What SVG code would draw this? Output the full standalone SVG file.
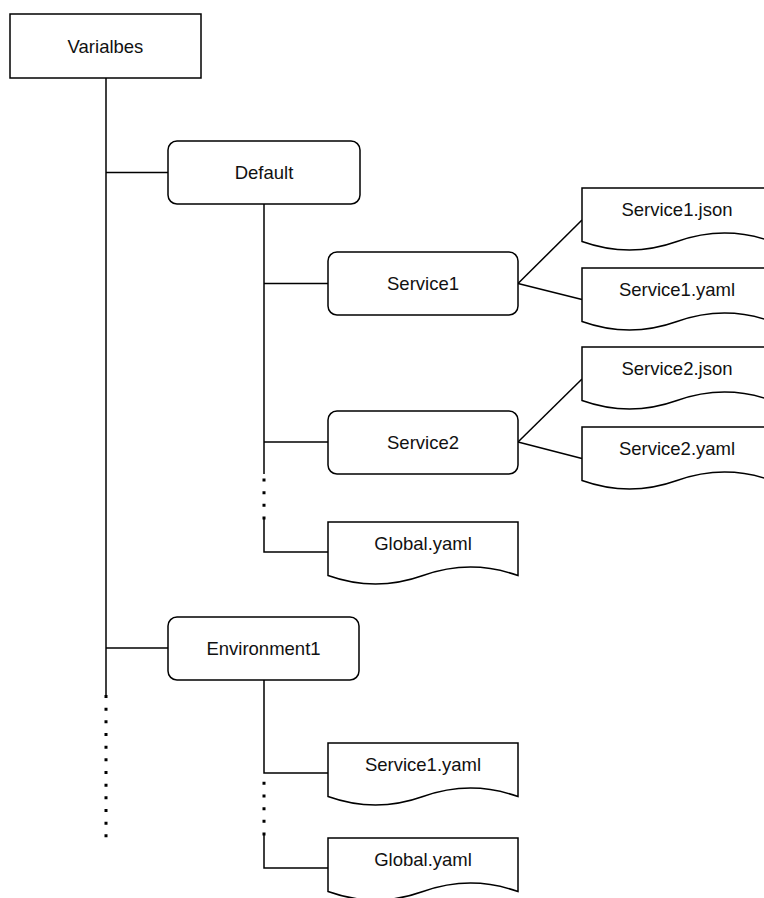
<svg xmlns="http://www.w3.org/2000/svg" width="764" height="898" viewBox="0 0 764 898">
<style>
.box{fill:#fff;stroke:#000;stroke-width:1.5}
.ln{fill:none;stroke:#000;stroke-width:1.5}
.dot{fill:none;stroke:#000;stroke-width:3;stroke-dasharray:3 9.67}
text{font-family:"Liberation Sans",Arial,Helvetica,sans-serif;font-size:18.5px;fill:#111;text-anchor:middle}
</style>
<defs>
<path id="doc" d="M0 0 H190 V53.55 Q142.5 36.54 95 53.55 Q47.5 70.56 0 53.55 Z"/>
</defs>
<g id="connectors">
<line class="ln" x1="106" y1="78" x2="106" y2="695"/>
<line class="dot" x1="106" y1="695" x2="106" y2="838"/>
<line class="ln" x1="106" y1="172.5" x2="168" y2="172.5"/>
<line class="ln" x1="106" y1="648" x2="168" y2="648"/>
<line class="ln" x1="264" y1="204" x2="264" y2="474"/>
<line class="ln" x1="264" y1="283.5" x2="328" y2="283.5"/>
<line class="ln" x1="264" y1="442" x2="328" y2="442"/>
<line class="dot" x1="264" y1="478.5" x2="264" y2="519.5"/>
<polyline class="ln" points="264,518 264,552 328,552"/>
<line class="ln" x1="518" y1="283.5" x2="582" y2="220"/>
<line class="ln" x1="518" y1="283.5" x2="582" y2="299.5"/>
<line class="ln" x1="518" y1="442" x2="582" y2="379"/>
<line class="ln" x1="518" y1="442" x2="582" y2="458.5"/>
<polyline class="ln" points="264,680 264,773 328,773"/>
<line class="dot" x1="264" y1="781.8" x2="264" y2="836"/>
<polyline class="ln" points="264,834 264,868 328,868"/>
</g>
<g id="varialbes">
<rect class="box" x="10" y="14" width="191" height="64"/>
<text x="105.5" y="52.5">Varialbes</text>
</g>
<g id="default">
<rect class="box" x="168" y="141" width="192" height="63" rx="9"/>
<text x="264" y="179">Default</text>
</g>
<g id="service1">
<rect class="box" x="328" y="252" width="190" height="63" rx="9"/>
<text x="423" y="290">Service1</text>
</g>
<g id="service1-json">
<use href="#doc" class="box" x="582" y="188"/>
<text x="677" y="216">Service1.json</text>
</g>
<g id="service1-yaml">
<use href="#doc" class="box" x="582" y="268"/>
<text x="677" y="296">Service1.yaml</text>
</g>
<g id="service2">
<rect class="box" x="328" y="411" width="190" height="63" rx="9"/>
<text x="423" y="449">Service2</text>
</g>
<g id="service2-json">
<use href="#doc" class="box" x="582" y="347"/>
<text x="677" y="375">Service2.json</text>
</g>
<g id="service2-yaml">
<use href="#doc" class="box" x="582" y="427"/>
<text x="677" y="455">Service2.yaml</text>
</g>
<g id="global-default">
<use href="#doc" class="box" x="328" y="522"/>
<text x="423" y="549.5">Global.yaml</text>
</g>
<g id="environment1">
<rect class="box" x="168" y="617" width="191" height="63" rx="9"/>
<text x="263.5" y="655">Environment1</text>
</g>
<g id="env-service1-yaml">
<use href="#doc" class="box" x="328" y="743"/>
<text x="423" y="770.5">Service1.yaml</text>
</g>
<g id="env-global">
<use href="#doc" class="box" x="328" y="838"/>
<text x="423" y="865.5">Global.yaml</text>
</g>
</svg>
